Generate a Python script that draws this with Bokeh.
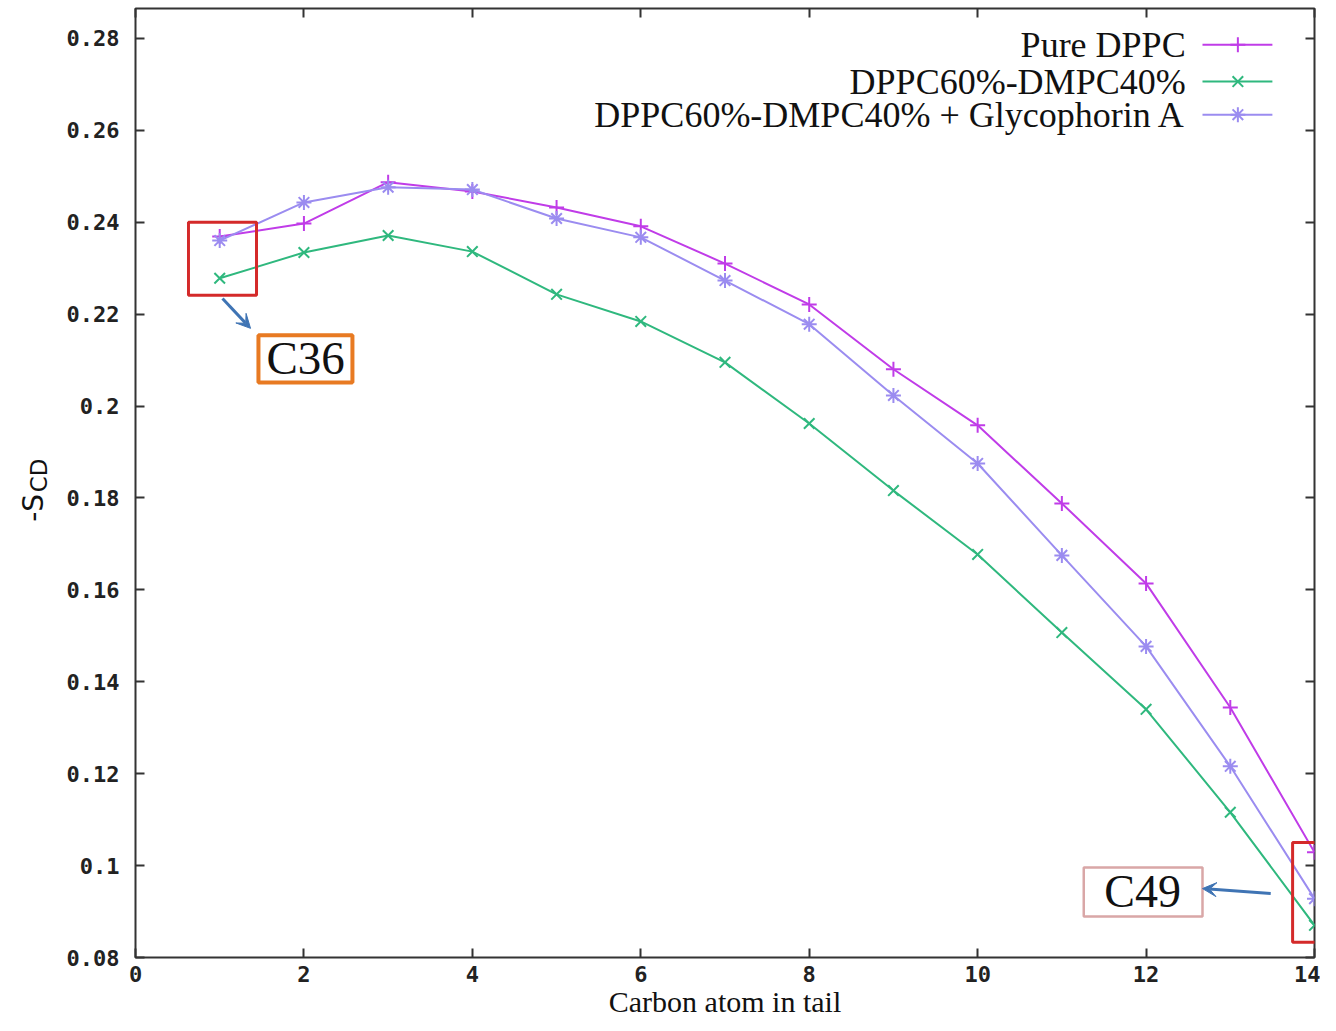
from bokeh.plotting import figure
from bokeh.layouts import row
from bokeh.models import (Range1d, LinearAxis, FixedTicker, CustomJSTickFormatter,
                          Label, BoxAnnotation, Arrow, VeeHead, ColumnDataSource)
from bokeh.embed import file_html
from bokeh.resources import INLINE
import math

# ---------------- data ----------------
carbon = [1, 2, 3, 4, 5, 6, 7, 8, 9, 10, 11, 12, 13, 14]
pure_dppc = [0.2369, 0.2397, 0.2487, 0.2467, 0.2432, 0.2391, 0.2310, 0.2221,
             0.2080, 0.1958, 0.1788, 0.1614, 0.1344, 0.1029]
dppc_dmpc = [0.2278, 0.2334, 0.2371, 0.2336, 0.2243, 0.2184, 0.2095, 0.1962,
             0.1816, 0.1677, 0.1507, 0.1340, 0.1116, 0.0870]
dppc_dmpc_gpa = [0.2360, 0.2443, 0.2476, 0.2471, 0.2408, 0.2367, 0.2273, 0.2178,
                 0.2023, 0.1875, 0.1675, 0.1477, 0.1216, 0.0928]
series_names = ["Pure DPPC", "DPPC60%-DMPC40%", "DPPC60%-DMPC40% + Glycophorin A"]
x_ticks = [0, 2, 4, 6, 8, 10, 12, 14]
x_tick_labels = ["0", "2", "4", "6", "8", "10", "12", "14"]
y_ticks = [0.08, 0.10, 0.12, 0.14, 0.16, 0.18, 0.20, 0.22, 0.24, 0.26, 0.28]
y_tick_labels = ["0.08", "0.1", "0.12", "0.14", "0.16", "0.18", "0.2", "0.22", "0.24", "0.26", "0.28"]
x_title = "Carbon atom in tail"
y_title_main = "-S"
y_title_sub = "CD"

colors = ["#c03ce8", "#2fb87e", "#9b8cf0"]
markers = ["cross", "x", "asterisk"]

TICK_FONT = "DejaVu Sans Mono"
SERIF = "Liberation Serif"
TOTAL_H = 1015
LEFT_W = 50

# ---------------- narrow strip holding the y title ----------------
side = figure(width=LEFT_W, height=TOTAL_H, x_range=Range1d(0, LEFT_W),
              y_range=Range1d(TOTAL_H, 0), min_border=0,
              output_backend="svg", toolbar_location=None)
side.axis.visible = False
side.grid.visible = False
side.outline_line_color = None
side.add_layout(Label(x=33, y=537, text=y_title_main, angle=math.pi / 2,
                      text_align="center", text_baseline="alphabetic",
                      text_font="DejaVu Sans", text_font_size="28px",
                      text_color="#111111"))
side.add_layout(Label(x=38, y=502, text=y_title_sub, angle=math.pi / 2,
                      text_align="center", text_baseline="alphabetic",
                      text_font="DejaVu Sans", text_font_size="23px",
                      text_color="#111111"))

# ---------------- main plot ----------------
p = figure(frame_width=1179, frame_height=949,
           x_range=Range1d(0, 14), y_range=Range1d(0.08, 0.2865),
           min_border_left=135 - LEFT_W, min_border_right=6, min_border_top=8,
           min_border_bottom=TOTAL_H - 957, output_backend="svg",
           toolbar_location=None,
           background_fill_color="white", border_fill_color="white")
p.grid.visible = False
p.outline_line_color = "#333333"
p.outline_line_width = 2

for ax in (p.xaxis[0], p.yaxis[0]):
    ax.axis_line_color = None
    ax.major_tick_in = 9
    ax.major_tick_out = 0
    ax.minor_tick_line_color = None
    ax.major_tick_line_color = "#333333"
    ax.major_tick_line_width = 2
    ax.major_label_text_font = TICK_FONT
    ax.major_label_text_font_style = "bold"
    ax.major_label_text_font_size = "22px"
    ax.major_label_text_color = "#222222"

p.xaxis[0].ticker = FixedTicker(ticks=x_ticks)
p.xaxis[0].major_label_overrides = {t: l for t, l in zip(x_ticks, x_tick_labels)}
p.xaxis[0].major_label_standoff = 8
p.xaxis[0].axis_label = x_title
p.xaxis[0].axis_label_text_font = SERIF
p.xaxis[0].axis_label_text_font_style = "normal"
p.xaxis[0].axis_label_text_font_size = "30px"
p.xaxis[0].axis_label_text_color = "#111111"
p.xaxis[0].axis_label_standoff = 0
p.yaxis[0].ticker = FixedTicker(ticks=y_ticks)
p.yaxis[0].major_label_overrides = {t: l for t, l in zip(y_ticks, y_tick_labels)}
p.yaxis[0].major_label_standoff = 16

# mirrored ticks (right and top)
for loc, tk in (("right", y_ticks), ("above", x_ticks)):
    ax = LinearAxis(ticker=FixedTicker(ticks=tk),
                    formatter=CustomJSTickFormatter(code="return ''"))
    ax.axis_line_color = None
    ax.major_tick_in = 9
    ax.major_tick_out = 0
    ax.minor_tick_line_color = None
    ax.major_tick_line_color = "#333333"
    ax.major_tick_line_width = 2
    ax.major_label_standoff = 0
    p.add_layout(ax, loc)

# ---------------- series ----------------
for ys, c, m in zip([pure_dppc, dppc_dmpc, dppc_dmpc_gpa], colors, markers):
    src = ColumnDataSource(dict(x=carbon, y=ys))
    p.line("x", "y", source=src, line_color=c, line_width=2)
    p.scatter("x", "y", source=src, marker=m, size=15, line_color=c, line_width=2)

# ---------------- legend (manual, gnuplot style) ----------------
leg_y = [0.2786, 0.2706, 0.2634]
for name, c, m, ly in zip(series_names, colors, markers, leg_y):
    p.add_layout(Label(x=12.47, y=ly, text=name, text_align="right",
                       text_baseline="middle", text_font=SERIF,
                       text_font_size="36px", text_color="#111111"))
    p.segment(x0=[12.67], y0=[ly], x1=[13.50], y1=[ly], line_color=c, line_width=2)
    p.scatter(x=[13.09], y=[ly], marker=m, size=15, line_color=c, line_width=2)

# ---------------- annotations ----------------
p.add_layout(BoxAnnotation(left=0.629, right=1.437, bottom=0.2241, top=0.2400,
                           fill_color=None, line_color="#d42a2a", line_alpha=1.0,
                           line_width=3))
p.add_layout(BoxAnnotation(left=13.74, right=14.6, bottom=0.0833, top=0.1050,
                           fill_color=None, line_color="#d42a2a", line_alpha=1.0,
                           line_width=3))
p.add_layout(BoxAnnotation(left=1.46, right=2.576, bottom=0.2051, top=0.2154,
                           fill_color="white", fill_alpha=1.0, line_alpha=1.0,
                           line_color="#e87a22", line_width=4))
p.add_layout(BoxAnnotation(left=11.26, right=12.67, bottom=0.0889, top=0.0996,
                           fill_color="white", fill_alpha=1.0, line_alpha=1.0,
                           line_color="#d9a7a7", line_width=2.5))
p.add_layout(Label(x=2.02, y=0.2104, text="C36", text_align="center",
                   text_baseline="middle", text_font=SERIF, text_font_size="47px",
                   text_color="#111111"))
p.add_layout(Label(x=11.96, y=0.0944, text="C49", text_align="center",
                   text_baseline="middle", text_font=SERIF, text_font_size="46px",
                   text_color="#111111"))
arrow_col = "#3f74b4"
p.add_layout(Arrow(x_start=1.033, y_start=0.2234, x_end=1.366, y_end=0.2169,
                   line_color=arrow_col, line_width=3,
                   end=VeeHead(size=14, line_color=arrow_col, fill_color=arrow_col)))
p.add_layout(Arrow(x_start=13.48, y_start=0.0939, x_end=12.67, y_end=0.0950,
                   line_color=arrow_col, line_width=3,
                   end=VeeHead(size=14, line_color=arrow_col, fill_color=arrow_col)))

layout = row(side, p)
open("out.html", "w").write(file_html(layout, INLINE))
